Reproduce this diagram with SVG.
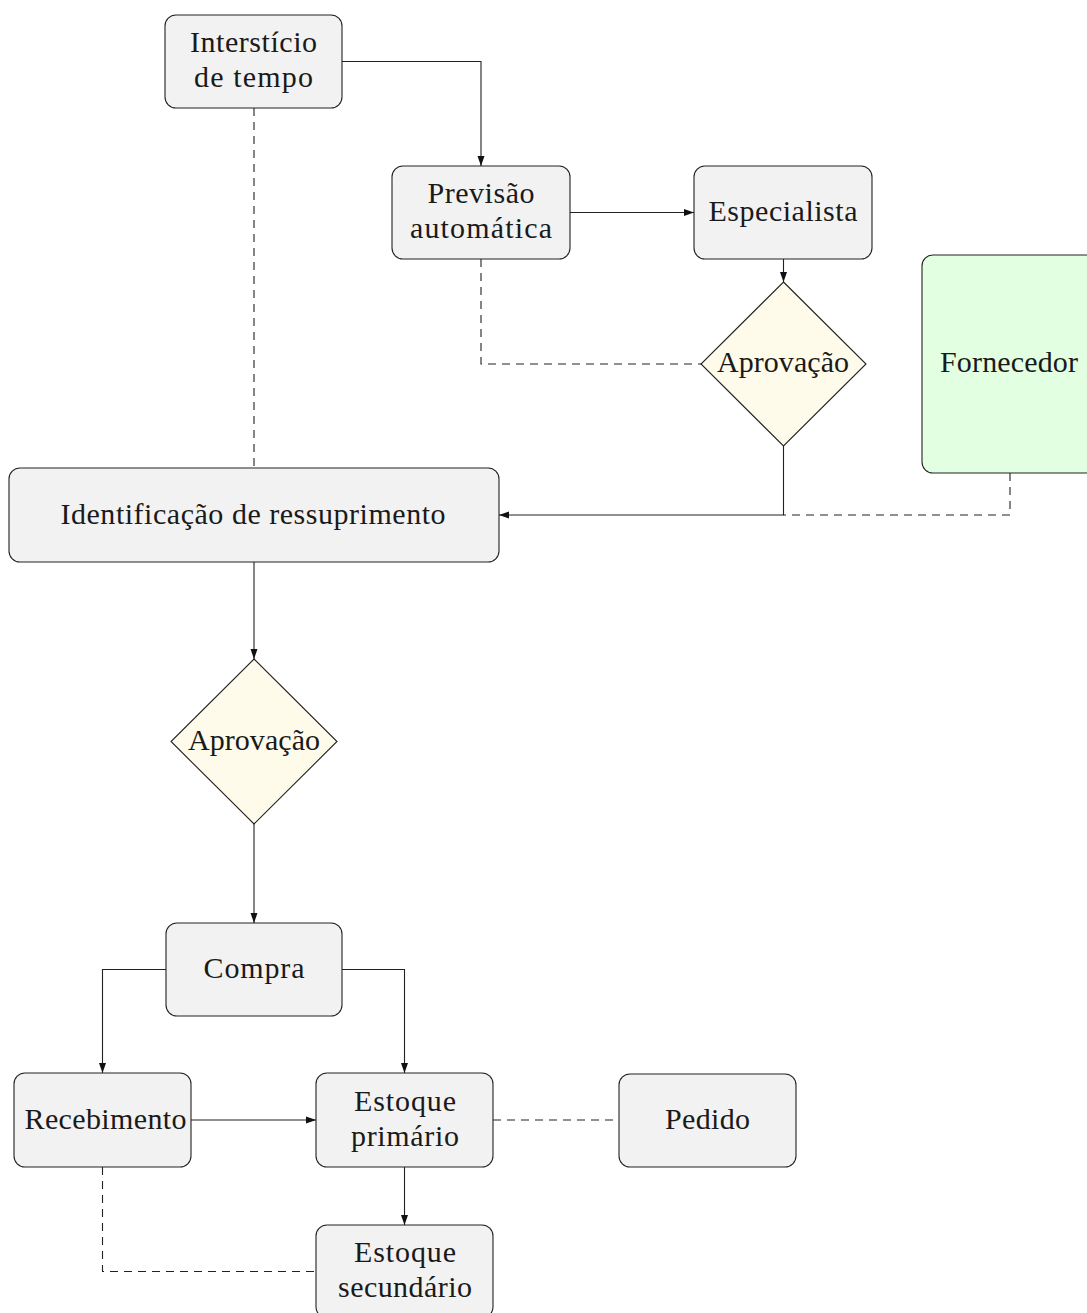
<svg xmlns="http://www.w3.org/2000/svg" width="1087" height="1313" viewBox="0 0 1087 1313">
<style>
.box{fill:#f2f2f2;stroke:#222;stroke-width:1.1}
.dia{fill:#fefbea;stroke:#222;stroke-width:1.1}
.grn{fill:#e2ffe2;stroke:#222;stroke-width:1.1}
.t{font-family:"Liberation Serif","Times New Roman",serif;font-size:30px;fill:#1a1a1a;text-anchor:middle}
.ln{fill:none;stroke:#222;stroke-width:1.1}
.ds{fill:none;stroke:#222;stroke-width:1.1;stroke-dasharray:8 6}
</style>
<defs>
<marker id="ah" viewBox="0 0 10 8" refX="10" refY="4" markerWidth="10" markerHeight="8" markerUnits="userSpaceOnUse" orient="auto">
<path d="M0,0.5 L10,4 L0,7.5 Z" fill="#111"/>
</marker>
</defs>
<rect width="1087" height="1313" fill="#fff"/>
<g id="connectors">
<path class="ln" d="M342,61.5 H481 V166" marker-end="url(#ah)"/>
<path class="ds" d="M254,108 V468"/>
<path class="ln" d="M570,212.5 H694" marker-end="url(#ah)"/>
<path class="ln" d="M783.5,259 V282" marker-end="url(#ah)"/>
<path class="ds" d="M481,259 V364 H701"/>
<path class="ln" d="M783.5,446 V515 H499" marker-end="url(#ah)"/>
<path class="ds" d="M1010,473 V515 H783.5"/>
<path class="ln" d="M254,562 V659" marker-end="url(#ah)"/>
<path class="ln" d="M254,824 V923" marker-end="url(#ah)"/>
<path class="ln" d="M166,969.5 H102.5 V1073" marker-end="url(#ah)"/>
<path class="ln" d="M342,969.5 H404.5 V1073" marker-end="url(#ah)"/>
<path class="ln" d="M191,1120 H316" marker-end="url(#ah)"/>
<path class="ln" d="M404.5,1167 V1225" marker-end="url(#ah)"/>
<path class="ds" d="M493,1120 H619"/>
<path class="ds" d="M102.5,1167 V1271.5 H316"/>
</g>
<g id="intersticio">
<rect class="box" x="165" y="15" width="177" height="93" rx="11"/>
<text class="t" x="253.5" y="52" textLength="127" lengthAdjust="spacing">Interstício</text>
<text class="t" x="253.5" y="87" textLength="119" lengthAdjust="spacing">de tempo</text>
</g>
<g id="previsao">
<rect class="box" x="392" y="166" width="178" height="93" rx="11"/>
<text class="t" x="481" y="203" textLength="107" lengthAdjust="spacing">Previsão</text>
<text class="t" x="481" y="238" textLength="142" lengthAdjust="spacing">automática</text>
</g>
<g id="especialista">
<rect class="box" x="694" y="166" width="178" height="93" rx="11"/>
<text class="t" x="783" y="221" textLength="149" lengthAdjust="spacing">Especialista</text>
</g>
<g id="aprovacao1">
<polygon class="dia" points="783.5,282 866,364 783.5,446 701,364"/>
<text class="t" x="783" y="372" textLength="132" lengthAdjust="spacing">Aprovação</text>
</g>
<g id="fornecedor">
<rect class="grn" x="922" y="255" width="176" height="218" rx="11"/>
<text class="t" x="1009" y="372" textLength="138" lengthAdjust="spacing">Fornecedor</text>
</g>
<g id="identificacao">
<rect class="box" x="9" y="468" width="490" height="94" rx="11"/>
<text class="t" x="253" y="523.5" textLength="385" lengthAdjust="spacing">Identificação de ressuprimento</text>
</g>
<g id="aprovacao2">
<polygon class="dia" points="254,659 337,741.5 254,824 171,741.5"/>
<text class="t" x="254" y="750" textLength="132" lengthAdjust="spacing">Aprovação</text>
</g>
<g id="compra">
<rect class="box" x="166" y="923" width="176" height="93" rx="11"/>
<text class="t" x="254" y="978" textLength="101" lengthAdjust="spacing">Compra</text>
</g>
<g id="recebimento">
<rect class="box" x="14" y="1073" width="177" height="94" rx="11"/>
<text class="t" x="105.5" y="1128.5" textLength="162" lengthAdjust="spacing">Recebimento</text>
</g>
<g id="estoque-primario">
<rect class="box" x="316" y="1073" width="177" height="94" rx="11"/>
<text class="t" x="405" y="1111" textLength="102" lengthAdjust="spacing">Estoque</text>
<text class="t" x="405" y="1146" textLength="108" lengthAdjust="spacing">primário</text>
</g>
<g id="pedido">
<rect class="box" x="619" y="1074" width="177" height="93" rx="11"/>
<text class="t" x="707.5" y="1128.5" textLength="85" lengthAdjust="spacing">Pedido</text>
</g>
<g id="estoque-secundario">
<rect class="box" x="316" y="1225" width="177" height="93" rx="11"/>
<text class="t" x="405" y="1262" textLength="102" lengthAdjust="spacing">Estoque</text>
<text class="t" x="405" y="1297" textLength="134" lengthAdjust="spacing">secundário</text>
</g>
</svg>
